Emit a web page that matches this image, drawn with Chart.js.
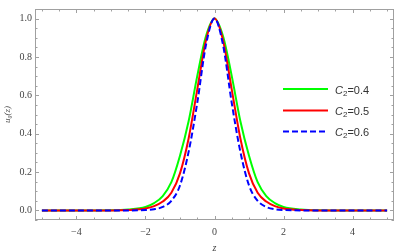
<!DOCTYPE html>
<html>
<head>
<meta charset="utf-8">
<script src="https://cdn.jsdelivr.net/npm/chart.js@4"></script>
<style>
  html, body { margin: 0; padding: 0; background: #fff; }
  #wrap { width: 395px; height: 251px; }
</style>
</head>
<body>
<div id="wrap"><canvas id="chart" width="395" height="251"></canvas></div>
<script>
// Valores
const zValues = [-5, -4, -3, -2.5, -2, -1.75, -1.5, -1.25, -1, -0.75, -0.5, -0.25, 0, 0.25, 0.5, 0.75, 1, 1.25, 1.5, 1.75, 2, 2.5, 3, 4, 5];
const c2Values = ['0.4', '0.5', '0.6'];
const u04 = [0, 0, 0.001, 0.005, 0.018, 0.038, 0.075, 0.147, 0.285, 0.465, 0.70, 0.906, 1, 0.906, 0.70, 0.465, 0.285, 0.147, 0.075, 0.038, 0.018, 0.005, 0.001, 0, 0];
const u05 = [0, 0, 0, 0.002, 0.010, 0.022, 0.046, 0.092, 0.193, 0.375, 0.63, 0.885, 1, 0.885, 0.63, 0.375, 0.193, 0.092, 0.046, 0.022, 0.010, 0.002, 0, 0, 0];
const u06 = [0, 0, 0, 0, 0.002, 0.006, 0.018, 0.05, 0.13, 0.305, 0.56, 0.86, 1, 0.86, 0.56, 0.305, 0.13, 0.05, 0.018, 0.006, 0.002, 0, 0, 0, 0];
const xTicks = [-4, -2, 0, 2, 4];
const yTicks = [0, 0.2, 0.4, 0.6, 0.8, 1.0];

const frameColor = '#a0a0a0';
const labelColor = '#444';

function toPoints(values) {
    return zValues.map((z, i) => ({ x: z, y: values[i] }));
}

// Moldura com marcas para dentro (estilo Mathematica)
const framePlugin = {
    id: 'frame',
    afterDraw(chart) {
        const { ctx, chartArea: a, scales } = chart;
        const xs = scales.x, ys = scales.y;
        ctx.save();
        ctx.strokeStyle = frameColor;
        ctx.lineWidth = 1;
        ctx.strokeRect(Math.round(a.left) + 0.5, Math.round(a.top) + 0.5,
            Math.round(a.right - a.left) - 1, Math.round(a.bottom - a.top) - 1);
        ctx.beginPath();
        for (let v = -5; v <= 5.001; v += 0.5) {
            const major = xTicks.includes(Math.round(v * 10) / 10);
            const len = major ? 4 : 2.5;
            const px = Math.round(xs.getPixelForValue(v)) + 0.5;
            ctx.moveTo(px, a.bottom); ctx.lineTo(px, a.bottom - len);
            ctx.moveTo(px, a.top); ctx.lineTo(px, a.top + len);
        }
        for (let k = -1; k <= 21; k++) {
            const v = k * 0.05;
            const major = k % 4 === 0;
            const len = major ? 4 : 2.5;
            const py = Math.round(ys.getPixelForValue(v)) + 0.5;
            ctx.moveTo(a.left, py); ctx.lineTo(a.left + len, py);
            ctx.moveTo(a.right, py); ctx.lineTo(a.right - len, py);
        }
        ctx.stroke();
        ctx.restore();
    }
};

// Legenda desenhada dentro da área do gráfico
const legendPlugin = {
    id: 'innerLegend',
    afterDraw(chart) {
        const ctx = chart.ctx;
        const rows = [89, 110.5, 131.5];
        chart.data.datasets.forEach((ds, i) => {
            const y = rows[i];
            ctx.save();
            ctx.strokeStyle = ds.borderColor;
            ctx.lineWidth = 2;
            ctx.setLineDash(ds.borderDash || []);
            ctx.beginPath();
            ctx.moveTo(283, y); ctx.lineTo(328, y);
            ctx.stroke();
            ctx.setLineDash([]);
            ctx.fillStyle = '#333';
            ctx.textBaseline = 'alphabetic';
            let x = 335;
            ctx.font = 'italic 11px "Liberation Sans", Arial, sans-serif';
            ctx.fillText('C', x, y + 4.5);
            x += ctx.measureText('C').width;
            ctx.font = '8px "Liberation Sans", Arial, sans-serif';
            ctx.fillText('2', x, y + 6.5);
            x += ctx.measureText('2').width;
            ctx.font = '11px "Liberation Sans", Arial, sans-serif';
            ctx.fillText('=' + c2Values[i], x, y + 4.5);
            ctx.restore();
        });
    }
};

const ctx = document.getElementById('chart').getContext('2d');
const chart = new Chart(ctx, {
    type: 'line',
    data: {
        datasets: [
            { label: 'C₂=' + c2Values[0], data: toPoints(u04), borderColor: '#00ff00', borderWidth: 2, order: 3 },
            { label: 'C₂=' + c2Values[1], data: toPoints(u05), borderColor: '#ff0000', borderWidth: 2, order: 2 },
            { label: 'C₂=' + c2Values[2], data: toPoints(u06), borderColor: '#0000ff', borderWidth: 2, borderDash: [6, 3], order: 1 }
        ]
    },
    options: {
        responsive: false,
        animation: false,
        devicePixelRatio: 1,
        parsing: false,
        elements: {
            point: { radius: 0 },
            line: { cubicInterpolationMode: 'monotone', fill: false }
        },
        layout: { padding: { top: 1, right: 1, left: 0, bottom: 0 } },
        plugins: {
            legend: { display: false },
            tooltip: { enabled: false }
        },
        scales: {
            x: {
                type: 'linear',
                min: -5.2,
                max: 5.2,
                afterFit: s => { s.height = 31; },
                afterBuildTicks: s => { s.ticks = xTicks.map(v => ({ value: v })); },
                grid: { display: false, drawTicks: false },
                border: { display: false },
                ticks: {
                    padding: 6,
                    color: labelColor,
                    font: { family: '"Liberation Serif", "Times New Roman", serif', size: 10 },
                    callback: v => (v < 0 ? '\u2212' + Math.abs(v) : String(v))
                },
                title: {
                    display: true,
                    text: 'z',
                    color: labelColor,
                    padding: { top: 0, bottom: -3 },
                    font: { family: '"Liberation Serif", "Times New Roman", serif', size: 10, style: 'italic' }
                }
            },
            y: {
                type: 'linear',
                min: -0.05,
                max: 1.05,
                afterFit: s => { s.width = 35; },
                afterBuildTicks: s => { s.ticks = yTicks.map(v => ({ value: v })); },
                grid: { display: false, drawTicks: false },
                border: { display: false },
                ticks: {
                    padding: 3,
                    color: labelColor,
                    font: { family: '"Liberation Serif", "Times New Roman", serif', size: 10 },
                    callback: v => v.toFixed(1)
                },
                title: {
                    display: true,
                    text: 'u₀(z)',
                    color: labelColor,
                    padding: { top: 2, bottom: 0 },
                    font: { family: '"Liberation Serif", "Times New Roman", serif', size: 9, style: 'italic' }
                }
            }
        }
    },
    plugins: [framePlugin, legendPlugin]
});
</script>
</body>
</html>
